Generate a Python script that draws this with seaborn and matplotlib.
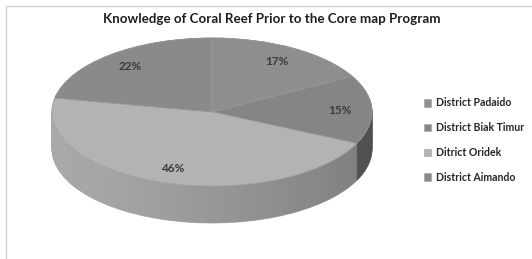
import numpy as np
import matplotlib
matplotlib.use("Agg")
import matplotlib.pyplot as plt
from matplotlib.patches import Polygon, Rectangle
import seaborn as sns

# data
districts = ["District Padaido", "District Biak Timur", "Ditrict Oridek", "District Aimando"]
shares = [17, 15, 46, 22]
top_colors = ["#8e8e8e", "#858585", "#b3b3b3", "#8a8a8a"]
side_colors = ["#7a7a7a", "#6b6b6b", "#a9a9a9", "#767676"]
title = "Knowledge of Coral Reef Prior to the Core map Program"

sns.set_theme(style="white")
plt.rcParams["font.family"] = ["Lato", "DejaVu Sans"]

W, H = 532, 259
fig = plt.figure(figsize=(W / 100, H / 100), dpi=100)
fig.patch.set_facecolor("white")

# light chart frame
fig.patches.append(Rectangle((6 / W, -0.2), 1.2, (H - 6) / H + 0.2, transform=fig.transFigure,
                             fill=False, edgecolor="#d0d0d0", linewidth=1.0))

# pie axes, circle squashed into an ellipse by the axes shape
a_px, b_px = 160, 74
cx_px, cy_px = 212, H - 112
depth = 0.5
ylo, yhi = -1 - depth - 0.1, 1.1
ax = fig.add_axes([(cx_px - a_px) / W, (cy_px + ylo * b_px) / H,
                   2 * a_px / W, (yhi - ylo) * b_px / H])

# side wall: stacked pies
n_layers = 40
for k in range(n_layers + 1):
    off = -depth + depth * k / n_layers
    ws, _ = ax.pie(shares, colors=side_colors, startangle=90, counterclock=False,
                   center=(0, off), wedgeprops=dict(linewidth=0))
    for w in ws:
        w.set_edgecolor(w.get_facecolor())
        w.set_linewidth(0.6)

# horizontal shading on the side wall
th = np.linspace(np.pi, 2 * np.pi, 200)
side = np.concatenate([np.c_[np.cos(th), np.sin(th)],
                       np.c_[np.cos(th[::-1]), np.sin(th[::-1]) - depth]])
clip = Polygon(side, closed=True, transform=ax.transData, facecolor="none", edgecolor="none")
ax.add_patch(clip)
grad = np.zeros((1, 256, 4))
grad[..., 3] = np.linspace(0.0, 0.35, 256) ** 1.3
im = ax.imshow(grad, extent=(-1, 1, -1 - depth, 0), aspect="auto", zorder=1.5)
im.set_clip_path(clip)

# top face
wedges, _, autotexts = ax.pie(shares, colors=top_colors, startangle=90, counterclock=False,
                              autopct="%d%%", pctdistance=0.8,
                              wedgeprops=dict(linewidth=0),
                              textprops=dict(fontsize=8.5, color="#3a3a3a", fontweight="bold"))
for w in wedges:
    w.set_zorder(2)
    w.set_edgecolor("#a0a0a0")
    w.set_linewidth(0.4)
for t in autotexts:
    t.set_zorder(3)

ax.set_aspect("auto")
ax.set_xlim(-1, 1)
ax.set_ylim(ylo, yhi)
ax.axis("off")

fig.text(272 / W, 1 - 19 / H, title, ha="center", va="center",
         fontsize=9.6, fontweight="bold", color="#1e1e1e")

fig.legend(wedges, districts, loc="upper left", bbox_to_anchor=(414 / W, 1 - 88 / H),
           frameon=False, handlelength=0.7, handleheight=0.7,
           handletextpad=0.5, labelspacing=1.3, prop=dict(weight="bold", size=7.6))

fig.savefig("out.png", dpi=100, facecolor="white")
